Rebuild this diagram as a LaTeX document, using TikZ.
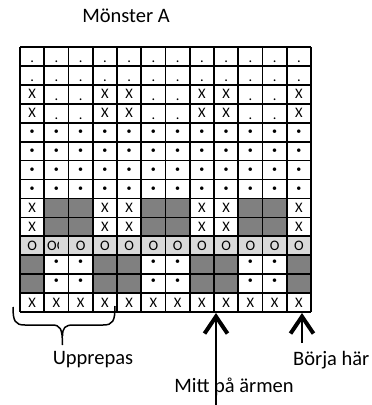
\documentclass[tikz,border=0pt]{standalone}
\usepackage{fontspec}
\setmainfont{Carlito}
\usetikzlibrary{arrows.meta}
\definecolor{mork}{gray}{0.5}
\definecolor{ljus}{gray}{0.85}
\tikzset{
  ruta/.style={line width=1.7pt},
  pil/.style={line width=1.4pt,-{Straight Barb[length=17pt,width=23pt,line width=4pt]}},
  etikett/.style={font=\fontsize{20.5}{24}\selectfont,inner sep=0pt},
  tecken/.style={font=\fontsize{14.5}{16}\selectfont,inner sep=0pt,anchor=base},
  prick/.style={font=\fontsize{10}{11}\selectfont,inner sep=0pt}
}
\begin{document}
\begin{tikzpicture}[x=1pt,y=-1pt]
			\useasboundingbox (0,0) rectangle (372,405);
			% gray cells
			\foreach \r in {9,10} \foreach \c in {2,3,6,7,10,11}
				\fill[mork] ({20+(\c-1)*24.25},{47+(\r-1)*18.93}) rectangle +(24.25,18.93);
			\foreach \r in {12,13} \foreach \c in {1,4,5,8,9,12}
				\fill[mork] ({20+(\c-1)*24.25},{47+(\r-1)*18.93}) rectangle +(24.25,18.93);
			\fill[ljus] (20,{47+10*18.93}) rectangle +(291,18.93);
			% periods, rows 1-4
			\foreach \r in {1,2} \foreach \c in {1,...,12}
				\node[tecken] (p\r-\c) at ({20+(\c-0.5)*24.25},{47+\r*18.93-3.5}) {.};
			\foreach \r in {3,4} \foreach \c in {2,3,6,7,10,11}
				\node[tecken] (p\r-\c) at ({20+(\c-0.5)*24.25},{47+\r*18.93-3.5}) {.};
			% x
			\foreach \r in {3,4,9,10} \foreach \c in {1,4,5,8,9,12}
				\node[tecken] (x\r-\c) at ({20+(\c-0.5)*24.25},{47+(\r-0.5)*18.93+4.6}) {X};
			\foreach \c in {1,...,12}
				\node[tecken] (x14-\c) at ({20+(\c-0.5)*24.25},{47+13.5*18.93+4.6}) {X};
			% bullets
			\foreach \r in {5,...,8} \foreach \c in {1,...,12}
				\node[prick] (b\r-\c) at ({20+(\c-0.5)*24.25},{47+(\r-0.5)*18.93}) {•};
			\foreach \r in {12,13} \foreach \c in {2,3,6,7,10,11}
				\node[prick] (b\r-\c) at ({20+(\c-0.5)*24.25},{47+(\r-0.5)*18.93-2.5}) {•};
			% o row
			\foreach \c in {1,3,4,5,6,7,8,9,10,11,12}
				\node[tecken] (o\c) at ({20+(\c-0.5)*24.25},{47+10.5*18.93+4.6}) {O};
			\begin{scope}
				\clip (44,230) rectangle (58,260);
				\node[tecken,anchor=base west] (o2) at (47,{47+10.5*18.93+4.6}) {OO};
			\end{scope}
			% grid
			\foreach \i in {0,...,12}
				\draw[ruta] ({20+\i*24.25},47) -- ({20+\i*24.25},312);
			\foreach \j in {0,...,14}
				\draw[ruta] (20,{47+\j*18.93}) -- (311,{47+\j*18.93});
			% brace
			\draw[line width=1.5pt] (13,307) .. controls (13,321) and (15,325) .. (25,325) -- (52,325)
				.. controls (60,325) and (62.5,328) .. (62.5,345);
			\draw[line width=1.5pt] (115,306) .. controls (115,321) and (113,325) .. (103,325) -- (73,325)
				.. controls (65,325) and (62.5,328) .. (62.5,336);
			% labels
			\node[etikett] (monster) at (126,16) {Mönster A};
			\node[etikett] (upprepas) at (93,360) {Upprepas};
			\node[etikett,anchor=west] (borja) at (293,360) {Börja här};
			\node[etikett] (mitt) at (234,387) {Mitt på ärmen};
			% arrows
			\coordinate (mittfot) at (216,405); \coordinate (mittspets) at (216,313);
			\coordinate (borjafot) at (302,343); \coordinate (borjaspets) at (302,313);
			\draw[pil] (mittfot) -- (mittspets);
			\draw[pil] (borjafot) -- (borjaspets);
\end{tikzpicture}
\end{document}
